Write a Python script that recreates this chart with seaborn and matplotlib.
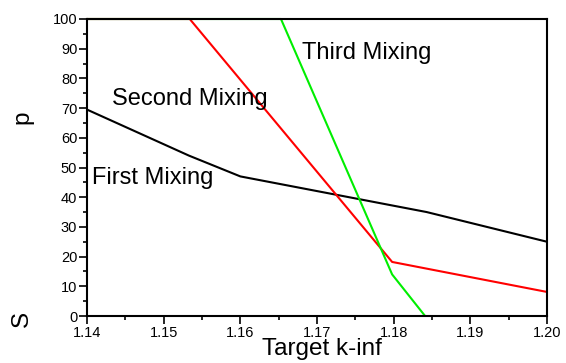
import matplotlib
matplotlib.use("Agg")
import matplotlib.pyplot as plt
import seaborn as sns
import pandas as pd
from matplotlib.ticker import MultipleLocator

sns.set_theme(style="white")
plt.rcParams['font.family'] = ['Liberation Sans', 'DejaVu Sans']
plt.rcParams['text.color'] = 'black'
plt.rcParams['axes.labelcolor'] = 'black'
plt.rcParams['xtick.color'] = 'black'
plt.rcParams['ytick.color'] = 'black'

first_x = [1.14, 1.1533, 1.16, 1.1843, 1.20]
first_y = [69.5, 54.0, 47.0, 35.0, 25.0]
second_x = [1.14, 1.1534, 1.1798, 1.20]
second_y = [100.0, 100.0, 18.2, 8.1]
third_x = [1.14, 1.1653, 1.1798, 1.1841]
third_y = [100.0, 100.0, 14.0, 0.0]

series_names = ["First Mixing", "Second Mixing", "Third Mixing"]
colors = ["#000000", "#ff0000", "#00ee00"]

df = pd.concat([
    pd.DataFrame({"x": first_x, "y": first_y, "s": series_names[0]}),
    pd.DataFrame({"x": second_x, "y": second_y, "s": series_names[1]}),
    pd.DataFrame({"x": third_x, "y": third_y, "s": series_names[2]}),
])

fig = plt.figure(figsize=(5.66, 3.63), dpi=100)
ax = fig.add_axes([87/566, 1 - 316/363, (547 - 87)/566, (316 - 19)/363])

sns.lineplot(data=df, x="x", y="y", hue="s", palette=dict(zip(series_names, colors)),
             linewidth=1.5, legend=False, ax=ax, sort=False, estimator=None, clip_on=False)

ax.set_xlim(1.14, 1.20)
ax.set_ylim(0, 100)
ax.xaxis.set_minor_locator(MultipleLocator(0.005))
ax.yaxis.set_major_locator(MultipleLocator(10))
ax.yaxis.set_minor_locator(MultipleLocator(5))
ax.set_xticks([1.14, 1.15, 1.16, 1.17, 1.18, 1.19, 1.20])
ax.set_xticklabels(["1.14", "1.15", "1.16", "1.17", "1.18", "1.19", "1.20"])
ax.tick_params(which="major", direction="out", length=6, width=1.2, color="black",
               labelsize=10.5, pad=1, bottom=True, left=True, labelcolor="black")
ax.tick_params(which="minor", direction="out", length=3, width=1.2, color="black",
               bottom=True, left=True)
for sp in ax.spines.values():
    sp.set_color("black")
    sp.set_linewidth(1.5)

ax.set_xlabel("Target k-inf", fontsize=17.5, labelpad=0, color="black")
ax.xaxis.set_label_coords(0.51, -0.075)
ax.set_ylabel("")

ax.text(1.168, 88.5, "Third Mixing", fontsize=17, va="center", ha="left", color="black")
ax.text(1.1433, 73, "Second Mixing", fontsize=17, va="center", ha="left", color="black")
ax.text(1.1407, 46.5, "First Mixing", fontsize=17, va="center", ha="left", color="black")

fig.text(22/566, 1 - 117/363, "p", rotation=90, fontsize=17.5, ha="center", va="center", color="black")
fig.text(22/566, 1 - 319/363, "S", rotation=90, fontsize=17.5, ha="center", va="center", color="black")

fig.savefig("out.png", dpi=100)
